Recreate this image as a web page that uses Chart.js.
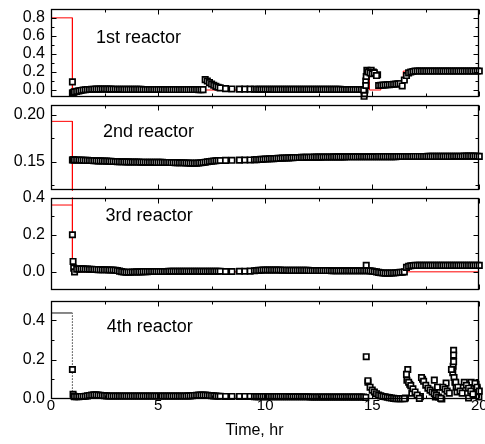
<!DOCTYPE html>
<html>
<head>
<meta charset="utf-8">
<title>Reactor outlet concentration</title>
<script src="https://cdn.jsdelivr.net/npm/chart.js@4.4.1/dist/chart.umd.min.js"></script>
<style>
  html, body { margin: 0; padding: 0; background: #fff; }
  #wrap { position: relative; width: 485px; height: 444px; overflow: hidden; background: #fff; }
  #wrap canvas { position: absolute; left: 0; }
</style>
</head>
<body>
<div id="wrap"></div>
<script>
// --- data ---

// sampling times (hr), shared by the four reactors
const timeHr = [
  1.0, 1.03, 1.06,
  1.1, 1.2, 1.3, 1.4, 1.5, 1.6, 1.7, 1.8, 1.9, 2.0,
  2.1, 2.2, 2.3, 2.4, 2.5, 2.6, 2.7, 2.8, 2.9, 3.0,
  3.1, 3.2, 3.3, 3.4, 3.5, 3.6, 3.7, 3.8, 3.9, 4.0,
  4.1, 4.2, 4.3, 4.4, 4.5, 4.6, 4.7, 4.8, 4.9, 5.0,
  5.1, 5.2, 5.3, 5.4, 5.5, 5.6, 5.7, 5.8, 5.9, 6.0,
  6.1, 6.2, 6.3, 6.4, 6.5, 6.6, 6.7, 6.8, 6.9, 7.0,
  7.1, 7.2, 7.3, 7.4, 7.5, 7.6, 7.7, 7.8, 7.9,
  8.15, 8.45, 8.8, 9.05, 9.3,
  9.5, 9.6, 9.7, 9.8, 9.9, 10.0,
  10.1, 10.2, 10.3, 10.4, 10.5, 10.6, 10.7, 10.8, 10.9, 11.0,
  11.1, 11.2, 11.3, 11.4, 11.5, 11.6, 11.7, 11.8, 11.9, 12.0,
  12.1, 12.2, 12.3, 12.4, 12.5, 12.6, 12.7, 12.8, 12.9, 13.0,
  13.1, 13.2, 13.3, 13.4, 13.5, 13.6, 13.7, 13.8, 13.9, 14.0,
  14.1, 14.2, 14.3, 14.4, 14.5, 14.6, 14.7, 14.8, 14.9, 15.0,
  15.1, 15.2, 15.3, 15.4, 15.5, 15.6, 15.7, 15.8, 15.9, 16.0,
  16.1, 16.2, 16.3, 16.4, 16.5, 16.6, 16.7, 16.8, 16.9, 17.0,
  17.1, 17.2, 17.3, 17.4, 17.5, 17.6, 17.7, 17.8, 17.9, 18.0,
  18.1, 18.2, 18.3, 18.4, 18.5, 18.6, 18.7, 18.8, 18.9, 19.0,
  19.1, 19.2, 19.3, 19.4, 19.5, 19.6, 19.7, 19.8, 19.9, 20.0
];

const reactor1 = [
  0.09, -0.03, -0.025,
  -0.02, -0.015, -0.01, -0.005, 0.0, 0.003, 0.005, 0.006, 0.008, 0.009,
  0.01, 0.01, 0.01, 0.011, 0.011, 0.01, 0.01, 0.01, 0.009, 0.009,
  0.008, 0.008, 0.008, 0.007, 0.007, 0.007, 0.007, 0.007, 0.007, 0.007,
  0.007, 0.007, 0.006, 0.006, 0.006, 0.006, 0.006, 0.006, 0.006, 0.006,
  0.006, 0.006, 0.005, 0.005, 0.005, 0.005, 0.005, 0.005, 0.005, 0.005,
  0.005, 0.005, 0.005, 0.005, 0.005, 0.005, 0.005, 0.005, 0.004, 0.004,
  0.004, 0.115, 0.1, 0.082, 0.066, 0.052, 0.04, 0.031, 0.024,
  0.015, 0.012, 0.01, 0.01, 0.01,
  0.009, 0.009, 0.008, 0.008, 0.008, 0.008,
  0.008, 0.008, 0.008, 0.007, 0.007, 0.007, 0.007, 0.007, 0.007, 0.007,
  0.007, 0.007, 0.007, 0.007, 0.007, 0.007, 0.007, 0.007, 0.007, 0.007,
  0.007, 0.007, 0.007, 0.007, 0.007, 0.007, 0.007, 0.007, 0.007, 0.007,
  0.007, 0.007, 0.007, 0.007, 0.007, 0.006, 0.006, 0.006, 0.006, 0.006,
  0.006, 0.006, 0.006, 0.006, 0.006, 0.0, 0.05, 0.2, 0.19, 0.18,
  0.19, 0.16, 0.05, 0.052, 0.054, 0.056, 0.058, 0.06, 0.062, 0.064,
  0.066, 0.068, 0.07, 0.045, 0.11, 0.16, 0.19, 0.2, 0.205, 0.21,
  0.21, 0.21, 0.21, 0.21, 0.21, 0.21, 0.21, 0.21, 0.21, 0.21,
  0.21, 0.21, 0.21, 0.21, 0.21, 0.21, 0.21, 0.21, 0.21, 0.21,
  0.21, 0.21, 0.21, 0.21, 0.21, 0.21, 0.21, 0.21, 0.21, 0.21
];

const reactor2 = [
  0.152, 0.1522, 0.1521,
  0.152, 0.152, 0.1519, 0.1518, 0.1517, 0.1516, 0.1515, 0.1514, 0.1513, 0.1512,
  0.1511, 0.151, 0.151, 0.1509, 0.1508, 0.1507, 0.1506, 0.1505, 0.1504, 0.1503,
  0.1502, 0.1501, 0.15, 0.15, 0.1499, 0.1499, 0.1498, 0.1498, 0.1497, 0.1497,
  0.1497, 0.1496, 0.1496, 0.1496, 0.1495, 0.1495, 0.1495, 0.1495, 0.1494, 0.1494,
  0.1494, 0.1494, 0.1493, 0.1493, 0.1493, 0.1492, 0.1492, 0.1491, 0.1491, 0.149,
  0.149, 0.1489, 0.1488, 0.1487, 0.1486, 0.1485, 0.1485, 0.1486, 0.1488, 0.149,
  0.1493, 0.1496, 0.15, 0.1503, 0.1506, 0.1509, 0.1511, 0.1513, 0.1514,
  0.1515, 0.1516, 0.1518, 0.1519, 0.152,
  0.1522, 0.1523, 0.1524, 0.1526, 0.1527, 0.1529,
  0.153, 0.1532, 0.1533, 0.1534, 0.1536, 0.1537, 0.1538, 0.1539, 0.154, 0.1541,
  0.1542, 0.1543, 0.1544, 0.1545, 0.1545, 0.1546, 0.1547, 0.1547, 0.1548, 0.1548,
  0.1549, 0.1549, 0.155, 0.155, 0.155, 0.155, 0.1551, 0.1551, 0.1551, 0.1551,
  0.1551, 0.1552, 0.1552, 0.1552, 0.1552, 0.1552, 0.1552, 0.1553, 0.1553, 0.1553,
  0.1553, 0.1553, 0.1553, 0.1554, 0.1554, 0.1554, 0.1554, 0.1554, 0.1554, 0.1554,
  0.1554, 0.1554, 0.1555, 0.1555, 0.1555, 0.1555, 0.1555, 0.1555, 0.1555, 0.1555,
  0.1555, 0.1556, 0.1556, 0.1556, 0.1556, 0.1556, 0.1556, 0.1556, 0.1557, 0.1557,
  0.1557, 0.1557, 0.1557, 0.1557, 0.1557, 0.1558, 0.1558, 0.1558, 0.1558, 0.1558,
  0.1558, 0.1558, 0.1558, 0.1558, 0.1558, 0.1558, 0.1558, 0.1559, 0.1559, 0.1559,
  0.1559, 0.1559, 0.156, 0.156, 0.156, 0.156, 0.1561, 0.156, 0.1559, 0.1558
];

const reactor3 = [
  0.2, 0.056, 0.02,
  0.0, 0.014, 0.016, 0.016, 0.016, 0.015, 0.015, 0.014, 0.014, 0.013,
  0.013, 0.012, 0.012, 0.011, 0.011, 0.011, 0.01, 0.01, 0.01, 0.009,
  0.007, 0.004, 0.001, -0.001, -0.002, -0.002, -0.002, -0.001, -0.001, 0.0,
  0.0, 0.0, 0.001, 0.001, 0.001, 0.002, 0.002, 0.002, 0.002, 0.002,
  0.002, 0.002, 0.002, 0.002, 0.003, 0.003, 0.003, 0.003, 0.003, 0.003,
  0.003, 0.003, 0.003, 0.003, 0.003, 0.003, 0.003, 0.003, 0.003, 0.003,
  0.003, 0.003, 0.003, 0.003, 0.003, 0.003, 0.003, 0.003, 0.003,
  0.002, 0.002, 0.003, 0.003, 0.004,
  0.006, 0.007, 0.008, 0.009, 0.01, 0.01,
  0.01, 0.01, 0.01, 0.01, 0.01, 0.01, 0.01, 0.009, 0.009, 0.009,
  0.008, 0.008, 0.008, 0.008, 0.008, 0.008, 0.008, 0.008, 0.008, 0.008,
  0.007, 0.007, 0.007, 0.007, 0.007, 0.007, 0.007, 0.007, 0.007, 0.007,
  0.006, 0.006, 0.006, 0.006, 0.006, 0.006, 0.006, 0.006, 0.006, 0.006,
  0.006, 0.006, 0.006, 0.006, 0.006, 0.006, 0.006, 0.006, 0.005, 0.004,
  0.002, 0.0, -0.003, -0.005, -0.006, -0.007, -0.007, -0.007, -0.006, -0.006,
  -0.005, -0.004, -0.003, -0.002, 0.0, 0.024, 0.03, 0.033, 0.034, 0.035,
  0.035, 0.035, 0.035, 0.035, 0.035, 0.035, 0.035, 0.035, 0.035, 0.035,
  0.035, 0.035, 0.035, 0.035, 0.035, 0.035, 0.035, 0.035, 0.035, 0.035,
  0.035, 0.035, 0.035, 0.035, 0.035, 0.035, 0.035, 0.035, 0.035, 0.035
];

const reactor4 = [
  0.15, 0.024, 0.015,
  0.012, 0.012, 0.012, 0.013, 0.013, 0.014, 0.016, 0.018, 0.02, 0.021,
  0.021, 0.02, 0.019, 0.018, 0.017, 0.016, 0.015, 0.015, 0.015, 0.015,
  0.015, 0.015, 0.015, 0.015, 0.015, 0.015, 0.015, 0.015, 0.015, 0.015,
  0.015, 0.015, 0.015, 0.015, 0.015, 0.015, 0.015, 0.015, 0.015, 0.015,
  0.015, 0.015, 0.015, 0.015, 0.015, 0.015, 0.015, 0.015, 0.015, 0.015,
  0.015, 0.015, 0.015, 0.016, 0.016, 0.017, 0.018, 0.019, 0.02, 0.02,
  0.02, 0.02, 0.019, 0.018, 0.017, 0.016, 0.015, 0.014, 0.014,
  0.013, 0.013, 0.013, 0.013, 0.013,
  0.012, 0.012, 0.012, 0.012, 0.012, 0.012,
  0.012, 0.012, 0.012, 0.012, 0.012, 0.012, 0.012, 0.012, 0.012, 0.012,
  0.011, 0.011, 0.011, 0.011, 0.011, 0.011, 0.011, 0.011, 0.011, 0.011,
  0.01, 0.01, 0.01, 0.01, 0.01, 0.01, 0.01, 0.01, 0.01, 0.01,
  0.01, 0.01, 0.01, 0.01, 0.01, 0.01, 0.01, 0.01, 0.01, 0.01,
  0.01, 0.01, 0.01, 0.01, 0.01, 0.01, 0.008, 0.093, 0.06, 0.045,
  0.036, 0.027, 0.02, 0.016, 0.013, 0.011, 0.009, 0.007, 0.005, 0.003,
  0.002, 0.002, 0.002, 0.002, 0.002, 0.125, 0.085, 0.068, 0.052, 0.036,
  0.02, 0.003, 0.109, 0.09, 0.07, 0.055, 0.045, 0.036, 0.028, 0.02,
  0.01, 0.003, 0.06, 0.05, 0.04, 0.03, 0.15, 0.19, 0.085, 0.06,
  0.04, 0.03, 0.085, 0.07, 0.055, 0.04, 0.025, 0.08, 0.06, 0.04
];

// extra samples that overlap the main trace
const r1ExtraT = [1.0, 14.62, 14.64, 14.66, 14.7, 14.72, 14.75, 14.85, 14.95, 15.05, 15.25];
const r1ExtraV = [-0.035, -0.07, -0.04, 0.0, 0.1, 0.15, 0.22, 0.21, 0.22, 0.2, 0.17];
const r2ExtraT = [];
const r2ExtraV = [];
const r3ExtraT = [14.72];
const r3ExtraV = [0.035];
const r4ExtraT = [14.72, 14.8, 16.66, 16.62, 16.75, 16.85, 16.55, 17.25, 17.35, 17.9, 17.95, 18.05, 18.25, 18.45,
                  18.8, 18.8, 18.78, 18.76, 18.82, 18.86, 18.92, 18.96, 19.5, 19.62, 19.75, 19.85, 19.9, 19.98];
const r4ExtraV = [0.215, 0.085, 0.15, 0.095, 0.075, 0.03, 0.005, 0.012, 0.1, 0.096, 0.01, 0.06, 0.0, 0.081,
                  0.247, 0.223, 0.166, 0.133, 0.109, 0.085, 0.06, 0.036, 0.005, 0.085, 0.02, 0.075, 0.05, 0.01];

// feed / inlet step lines
const feed1T = [0, 1.0, 1.0, 14.7, 14.7, 14.87, 14.87, 15.4, 15.4, 16.45, 16.45, 20];
const feed1V = [0.8, 0.8, 0.0, 0.0, 0.2, 0.2, 0.0, 0.0, 0.06, 0.06, 0.21, 0.21];
const feed2T = [0, 1.0, 1.0];
const feed2V = [0.193, 0.193, 0.1];
const feed3T = [0, 1.0, 1.0, 1.0, 20];
const feed3V = [0.36, 0.36, 0.45, 0.0, 0.0];
const feed4T = [0, 1.0, 1.0, 20];
const feed4V = [0.437, 0.437, 0.0, 0.0];

const panelNames = ['1st reactor', '2nd reactor', '3rd reactor', '4th reactor'];

// axis ticks
const xMajor = [0, 5, 10, 15, 20];
const xMinor = [2.5, 7.5, 12.5, 17.5];
const y1Major = [0, 0.2, 0.4, 0.6, 0.8];
const y1Minor = [0.1, 0.3, 0.5, 0.7];
const y2Major = [0.15, 0.2];
const y2Minor = [0.125, 0.175];
const y3Major = [0, 0.2, 0.4];
const y3Minor = [-0.1, 0.1, 0.3];
const y4Major = [0, 0.2, 0.4];
const y4Minor = [0.1, 0.3, 0.5];

// --- drawing ---
Chart.defaults.font.family = '"Liberation Sans", Arial, Helvetica, sans-serif';
Chart.defaults.color = '#000';

const panels = [
  { series: reactor1, exT: r1ExtraT, exV: r1ExtraV, fT: feed1T, fV: feed1V, feedColor: '#ff0000',
    yMin: -0.082, yMax: 0.9026, major: y1Major, minor: y1Minor, digits: 1,
    name: panelNames[0], at: [2.1, 0.574], top: 5, bottom: 101 },
  { series: reactor2, exT: r2ExtraT, exV: r2ExtraV, fT: feed2T, fV: feed2V, feedColor: '#ff0000',
    yMin: 0.1196, yMax: 0.2108, major: y2Major, minor: y2Minor, digits: 2,
    name: panelNames[1], at: [2.43, 0.1817], top: 101, bottom: 194 },
  { series: reactor3, exT: r3ExtraT, exV: r3ExtraV, fT: feed3T, fV: feed3V, feedColor: '#ff0000',
    yMin: -0.1, yMax: 0.4, major: y3Major, minor: y3Minor, digits: 1,
    name: panelNames[2], at: [2.55, 0.298], top: 194, bottom: 294 },
  { series: reactor4, exT: r4ExtraT, exV: r4ExtraV, fT: feed4T, fV: feed4V, feedColor: '#111',
    yMin: 0, yMax: 0.5, major: y4Major, minor: y4Minor, digits: 1,
    name: panelNames[3], at: [2.6, 0.364], top: 297, bottom: 399 }
];

function pts(xs, ys) {
  return xs.map((x, i) => ({ x: x, y: ys[i] }));
}

// frame + inward tick marks on all four sides
const frameTicks = {
  id: 'frameTicks',
  afterDraw(chart, args, opts) {
    const ctx = chart.ctx, a = chart.chartArea;
    const xs = chart.scales.x, ys = chart.scales.y;
    const L = Math.round(a.left) + 0.5, R = Math.round(a.right) - 0.5;
    const T = Math.round(a.top) + 0.5, B = Math.round(a.bottom) - 0.5;
    ctx.save();
    ctx.strokeStyle = '#000';
    ctx.lineWidth = 1.3;
    ctx.strokeRect(L, T, R - L, B - T);
    ctx.lineWidth = 1;
    ctx.beginPath();
    const marks = (vals, len, isX) => vals.forEach(v => {
      if (isX) {
        const px = Math.round(xs.getPixelForValue(v)) + 0.5;
        ctx.moveTo(px, T); ctx.lineTo(px, T + len);
        ctx.moveTo(px, B); ctx.lineTo(px, B - len);
      } else {
        const py = Math.round(ys.getPixelForValue(v)) + 0.5;
        if (py < T - 0.1 || py > B + 0.1) return;
        ctx.moveTo(L, py); ctx.lineTo(L + len, py);
        ctx.moveTo(R, py); ctx.lineTo(R - len, py);
      }
    });
    marks(xMajor, 5, true);
    marks(xMinor, 3, true);
    marks(opts.major, 5, false);
    marks(opts.minor, 3, false);
    ctx.stroke();
    ctx.restore();
  }
};

// reactor name inside each panel, and the shared axis title
const panelText = {
  id: 'panelText',
  afterDraw(chart, args, opts) {
    const ctx = chart.ctx;
    ctx.save();
    ctx.fillStyle = '#000';
    ctx.font = '18px "Liberation Sans", Arial, sans-serif';
    ctx.textBaseline = 'middle';
    ctx.textAlign = 'left';
    ctx.fillText(opts.text, chart.scales.x.getPixelForValue(opts.at[0]), chart.scales.y.getPixelForValue(opts.at[1]));
    if (opts.axisTitle) {
      ctx.font = '16px "Liberation Sans", Arial, sans-serif';
      ctx.textAlign = 'center';
      ctx.fillText(opts.axisTitle, chart.scales.x.getPixelForValue(9.5), opts.axisTitleY);
    }
    ctx.restore();
  }
};

const wrap = document.getElementById('wrap');
const markerStyle = {
  pointStyle: 'rect',
  pointRadius: 3.8,
  pointBorderWidth: 1.7,
  pointBorderColor: '#000',
  pointBackgroundColor: '#fff',
  showLine: false,
  clip: false,
  order: 1
};

panels.forEach((p, i) => {
  const last = i === panels.length - 1;
  const padTop = 12, padBottom = last ? 3 : 12;
  const axisH = last ? 42 : 0;
  const h = padTop + (p.bottom - p.top) + axisH + padBottom;
  const cv = document.createElement('canvas');
  cv.width = 485;
  cv.height = h;
  cv.style.top = (p.top - padTop) + 'px';
  wrap.appendChild(cv);

  new Chart(cv.getContext('2d'), {
    type: 'scatter',
    data: {
      datasets: [
        Object.assign({ data: pts(timeHr, p.series) }, markerStyle),
        Object.assign({ data: pts(p.exT, p.exV) }, markerStyle),
        {
          data: pts(p.fT, p.fV),
          showLine: true,
          pointRadius: 0,
          borderColor: p.feedColor,
          borderWidth: 1,
          clip: 0,
          order: 2,
          segment: last ? {
            borderDash: c => c.p0.parsed.x === c.p1.parsed.x ? [1, 2] : undefined,
            borderColor: c => c.p0.parsed.x === c.p1.parsed.x ? '#777' : undefined
          } : undefined
        }
      ]
    },
    options: {
      responsive: false,
      animation: false,
      events: [],
      layout: { padding: { top: padTop, bottom: padBottom, left: 0, right: 4 } },
      plugins: {
        legend: { display: false },
        tooltip: { enabled: false },
        frameTicks: { major: p.major, minor: p.minor },
        panelText: { text: p.name, at: p.at, axisTitle: last ? 'Time, hr' : null, axisTitleY: h - padBottom - 10 }
      },
      scales: {
        x: {
          type: 'linear', min: 0, max: 20,
          display: last,
          grid: { display: false, drawTicks: false },
          border: { display: false },
          ticks: { font: { size: 15 }, padding: -2, maxRotation: 0 },
          afterBuildTicks: s => { s.ticks = xMajor.map(v => ({ value: v })); },
          afterFit: s => { s.height = axisH; s.paddingLeft = 0; s.paddingRight = 0; }
        },
        y: {
          type: 'linear', min: p.yMin, max: p.yMax,
          grid: { display: false, drawTicks: false },
          border: { display: false },
          ticks: { font: { size: 16 }, padding: 6, callback: v => v.toFixed(p.digits) },
          afterBuildTicks: s => { s.ticks = p.major.map(v => ({ value: v })); },
          afterFit: s => { s.width = 51; }
        }
      }
    },
    plugins: [frameTicks, panelText]
  });
});
</script>
</body>
</html>
